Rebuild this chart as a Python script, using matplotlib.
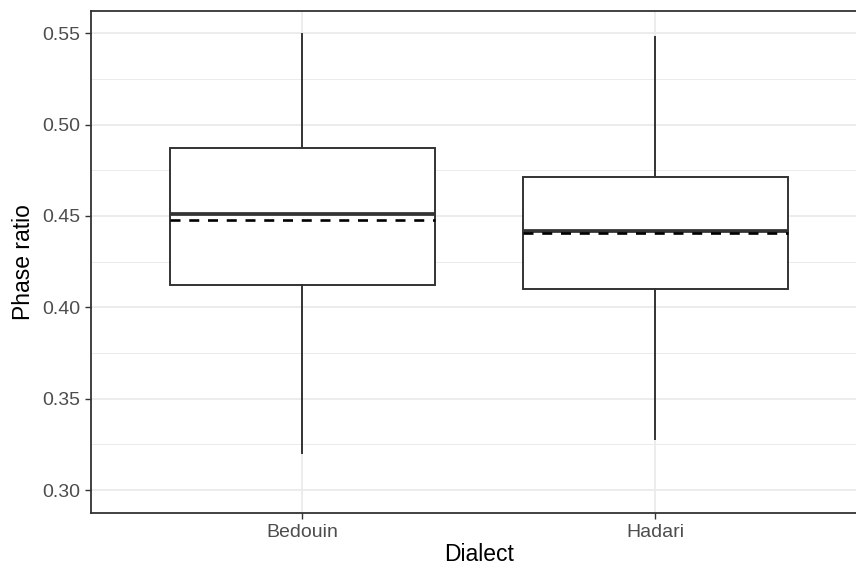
import numpy as np
import matplotlib
matplotlib.use("Agg")
import matplotlib.pyplot as plt

plt.rcParams['font.family'] = ['Liberation Sans', 'DejaVu Sans']
plt.rcParams['lines.scale_dashes'] = False

# values
dialects = ["Bedouin", "Hadari"]
whisker_low = [0.3205, 0.3281]
q1 = [0.4121, 0.4101]
median = [0.4511, 0.4420]
q3 = [0.4873, 0.4714]
whisker_high = [0.5496, 0.5478]
mean = [0.4478, 0.4404]

dark = "#333333"
grid = "#EBEBEB"

fig = plt.figure(figsize=(8.56, 5.68), dpi=100)
ax = fig.add_axes([0.10596, 0.0963, 0.9069, 0.8849])

pos = np.arange(1, len(dialects) + 1)
stats = []
for i, name in enumerate(dialects):
    stats.append(dict(label=name, whislo=whisker_low[i], q1=q1[i], med=median[i],
                      q3=q3[i], whishi=whisker_high[i], fliers=[]))

ax.bxp(stats, positions=pos, widths=0.75, showcaps=False, showfliers=False,
       patch_artist=True,
       boxprops=dict(facecolor="white", edgecolor=dark, linewidth=1.4),
       whiskerprops=dict(color=dark, linewidth=1.4),
       medianprops=dict(color=dark, linewidth=2.7, solid_capstyle="butt"),
       zorder=3)

ax.hlines(mean, pos - 0.375, pos + 0.375, colors="black", linewidth=1.9,
          linestyles=(0, (7.2, 6.3)), zorder=4)

ax.set_xlim(0.4, 2.6)
ax.set_ylim(0.2873, 0.5623)
ax.set_xticks(pos)
ax.set_xticklabels(dialects)
ax.set_yticks([0.30, 0.35, 0.40, 0.45, 0.50, 0.55])
ax.set_yticklabels(["0.30", "0.35", "0.40", "0.45", "0.50", "0.55"])
ax.set_yticks(np.arange(0.325, 0.55, 0.05), minor=True)

ax.grid(True, which="major", color=grid, linewidth=1.3, zorder=0)
ax.grid(True, which="minor", axis="y", color=grid, linewidth=0.7, zorder=0)
ax.set_axisbelow(True)

ax.tick_params(axis="both", which="major", length=4, width=1.0, color=dark,
               labelsize=14, labelcolor="#4D4D4D", pad=3.5)
ax.tick_params(axis="y", which="minor", length=0)
for s in ax.spines.values():
    s.set_color(dark)
    s.set_linewidth(1.3)

ax.set_xlabel("Dialect", fontsize=16.5, labelpad=2)
ax.set_ylabel("Phase ratio", fontsize=16.5, labelpad=5)

fig.savefig("out.png", dpi=100)
